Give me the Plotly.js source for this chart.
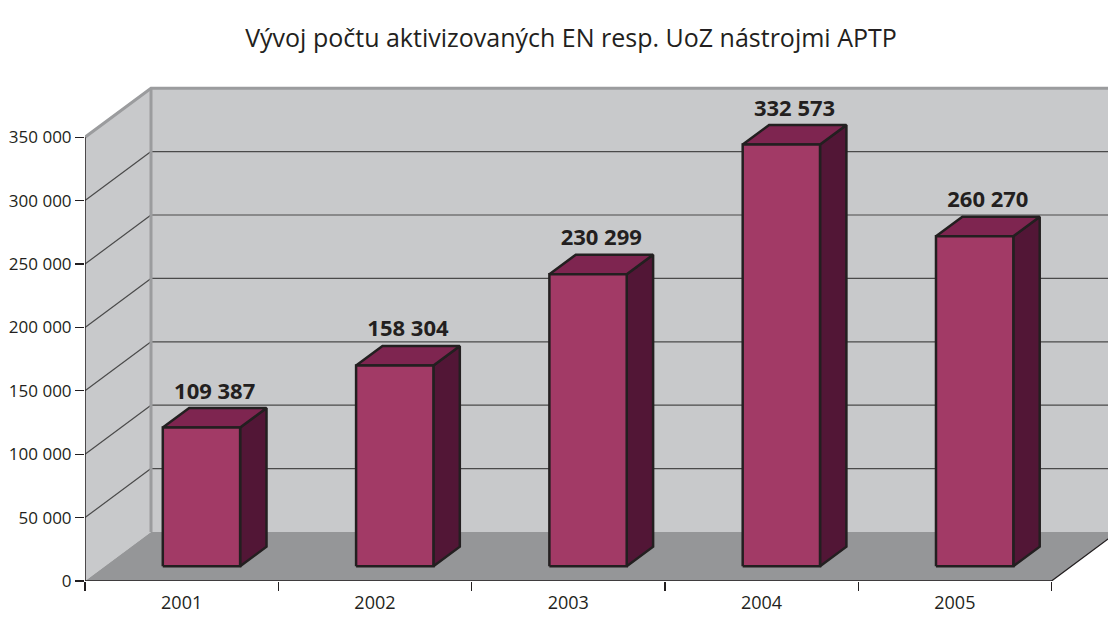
<!DOCTYPE html>
<html>
<head>
<meta charset="utf-8">
<script src="https://cdn.plot.ly/plotly-3.0.1.min.js"></script>
<style>html,body{margin:0;padding:0;background:#fff;}#chart{width:1108px;height:617px;}</style>
</head>
<body>
<div id="chart"></div>
<script>
// ---- data ----
const categories = ['2001', '2002', '2003', '2004', '2005'];
const values = [109387, 158304, 230299, 332573, 260270];
const yTickVals = [0, 50000, 100000, 150000, 200000, 250000, 300000, 350000];
const yTickText = ['0', '50 000', '100 000', '150 000', '200 000', '250 000', '300 000', '350 000'];
const titleText = 'Vývoj počtu aktivizovaných EN resp. UoZ nástrojmi APTP';

// ---- geometry / style ----
const W = 1108, H = 617, L = 85, B = 36, T = 70;
const catPx = 193.3;             // px per category
const valPx = 63.4 / 50000;      // px per unit value
const xMax = (W - L) / catPx;
const yMax = (H - B - T) / valPx;
const DX = 66 / catPx;           // full depth shift in x units
const DY = 49 / valPx;           // full depth shift in value units
const WALL = yTickVals[yTickVals.length - 1];
const d1 = 0.3, d2 = 0.7, bw = 0.4;
const FONT = '"Open Sans", "Noto Sans", Arial, sans-serif';
const INK = '#231f20';

function fmt(v) { return String(v).replace(/\B(?=(\d{3})+(?!\d))/g, ' '); }

const traces = [];
function poly(xs, ys, fill, lc, lw) {
  traces.push({
    type: 'scatter', mode: 'lines', x: xs.concat([xs[0]]), y: ys.concat([ys[0]]),
    fill: 'toself', fillcolor: fill, line: { color: lc || fill, width: lw || 0 },
    hoverinfo: 'skip', showlegend: false
  });
}
function seg(xs, ys, color, width) {
  traces.push({
    type: 'scatter', mode: 'lines', x: xs, y: ys,
    line: { color: color, width: width }, hoverinfo: 'skip', showlegend: false
  });
}

const wallCol = '#c8c9cb', floorCol = '#959698', edgeCol = '#9b9c9e', gridCol = '#4a4a4a';
const xFar = xMax + 1;
// back wall
poly([DX, xFar, xFar, DX], [DY, DY, DY + WALL, DY + WALL], wallCol);
// left wall
poly([0, DX, DX, 0], [0, DY, DY + WALL, WALL], wallCol);
// floor
const nCat = categories.length;
poly([0, nCat, nCat + DX, DX], [0, 0, DY, DY], floorCol);

// gridlines
yTickVals.forEach(function (v) {
  if (v === 0 || v === WALL) return;
  seg([DX, xFar], [DY + v, DY + v], gridCol, 1.2);
  seg([0, DX], [v, DY + v], gridCol, 1.2);
});
// grey wall edges
seg([DX, DX], [DY, DY + WALL], edgeCol, 3);
seg([0, DX, xFar], [WALL, DY + WALL, DY + WALL], edgeCol, 3);
// axis lines
seg([0, 0], [0, WALL], INK, 1.5);
seg([0, nCat, nCat + DX], [0, 0, DY], INK, 1.3);

// bars
const frontCol = '#a23a66', topCol = '#7e2550', sideCol = '#521636', barLine = '#231f20';
values.forEach(function (v, i) {
  const c = i + 0.5, xl = c - bw / 2, xr = c + bw / 2;
  const y1 = d1 * DY, y2 = d2 * DY;
  poly([xr + d1 * DX, xr + d2 * DX, xr + d2 * DX, xr + d1 * DX], [y1, y2, y2 + v, y1 + v], sideCol, barLine, 2.5);
  poly([xl + d1 * DX, xr + d1 * DX, xr + d2 * DX, xl + d2 * DX], [y1 + v, y1 + v, y2 + v, y2 + v], topCol, barLine, 2.5);
  poly([xl + d1 * DX, xr + d1 * DX, xr + d1 * DX, xl + d1 * DX], [y1, y1, y1 + v, y1 + v], frontCol, barLine, 2.5);
});

// value labels
const labelGap = 4 / valPx;
traces.push({
  type: 'scatter', mode: 'text',
  x: values.map(function (v, i) { return i + 0.5 + 0.5 * DX; }),
  y: values.map(function (v) { return v + d2 * DY + labelGap; }),
  text: values.map(fmt), textposition: 'top center',
  textfont: { family: FONT, size: 22, color: INK, weight: 'bold' },
  cliponaxis: false, hoverinfo: 'skip', showlegend: false
});

const layout = {
  width: W, height: H,
  margin: { l: L, r: 0, t: T, b: B, pad: 0 },
  paper_bgcolor: '#ffffff', plot_bgcolor: '#ffffff',
  title: { text: titleText, x: 571 / W, xanchor: 'center', y: 1 - 38 / H, yanchor: 'middle',
           font: { family: FONT, size: 25, color: INK } },
  xaxis: {
    range: [0, xMax], tickvals: categories.map(function (c, i) { return i + 0.5; }), ticktext: categories,
    ticks: 'outside', ticklen: 5, tickcolor: 'rgba(0,0,0,0)', showgrid: false, zeroline: false, showline: false,
    tickfont: { family: FONT, size: 18, color: INK },
    minor: { tickmode: 'array', tickvals: categories.map(function (c, i) { return i; }).concat([nCat]),
             ticks: 'outside', ticklen: 9, tickwidth: 1.3, tickcolor: INK, showgrid: false },
    fixedrange: true
  },
  yaxis: {
    range: [0, yMax], tickvals: yTickVals, ticktext: yTickText,
    ticks: 'outside', ticklen: 9, tickwidth: 1.3, tickcolor: INK,
    showgrid: false, zeroline: false, showline: false,
    tickfont: { family: FONT, size: 17, color: INK }, fixedrange: true
  },
  showlegend: false
};

Plotly.newPlot('chart', traces, layout, { displayModeBar: false, staticPlot: true });
</script>
</body>
</html>
